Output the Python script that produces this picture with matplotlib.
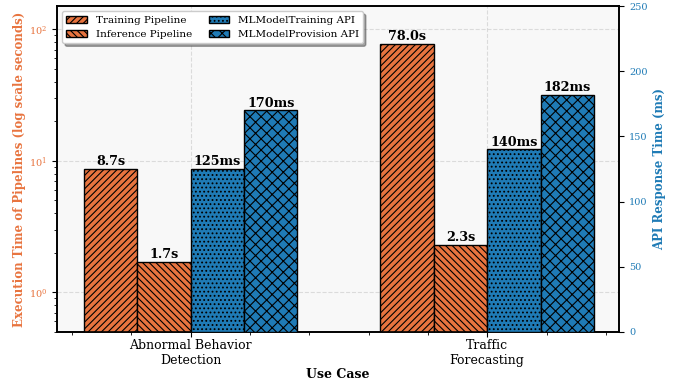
import matplotlib
matplotlib.use("Agg")
import matplotlib.pyplot as plt
from matplotlib.ticker import MultipleLocator
import numpy as np

use_cases = ["Abnormal Behavior\nDetection", "Traffic\nForecasting"]
training_pipeline = [8.7, 78.0]
inference_pipeline = [1.7, 2.3]
training_api = [125, 140]
provision_api = [170, 182]

orange = "#E8743F"
blue = "#1F7BB6"

plt.rcParams['font.family'] = 'DejaVu Serif'
plt.rcParams['hatch.linewidth'] = 0.8

fig, ax = plt.subplots(figsize=(6.88, 3.85), dpi=100)
fig.subplots_adjust(left=0.083, right=0.9, top=0.984, bottom=0.138)
ax.set_facecolor("#f8f8f8")

x = np.arange(len(use_cases))
w = 0.18

b1 = ax.bar(x - 1.5 * w, training_pipeline, w, color=orange, edgecolor="black",
            hatch="/////", linewidth=1.0, label="Training Pipeline", zorder=3)
b2 = ax.bar(x - 0.5 * w, inference_pipeline, w, color=orange, edgecolor="black",
            hatch="\\\\\\\\\\", linewidth=1.0, label="Inference Pipeline", zorder=3)
ax.set_yscale("log")
ax.set_ylim(0.5, 150)
ax.set_xlim(-0.45, 1.445)

ax2 = ax.twinx()
b3 = ax2.bar(x + 0.5 * w, training_api, w, color=blue, edgecolor="black",
             hatch="....", linewidth=1.0, label="MLModelTraining API", zorder=3)
b4 = ax2.bar(x + 1.5 * w, provision_api, w, color=blue, edgecolor="black",
             hatch="xxx", linewidth=1.0, label="MLModelProvision API", zorder=3)
ax2.set_ylim(0, 250)

# value labels
for bars, vals in [(b1, training_pipeline), (b2, inference_pipeline)]:
    for b, v in zip(bars, vals):
        ax.annotate(f"{v:.1f}s", (b.get_x() + b.get_width() / 2, v),
                    xytext=(0, 0.5), textcoords="offset points",
                    ha="center", va="bottom", fontsize=9.2, fontweight="bold")
for bars, vals in [(b3, training_api), (b4, provision_api)]:
    for b, v in zip(bars, vals):
        ax2.annotate(f"{v}ms", (b.get_x() + b.get_width() / 2, v),
                     xytext=(0, 0.5), textcoords="offset points",
                     ha="center", va="bottom", fontsize=9.2, fontweight="bold")

ax.set_xticks(x)
ax.set_xticklabels(use_cases, fontsize=9)
ax.xaxis.set_minor_locator(MultipleLocator(0.2))
ax.tick_params(axis="x", which="major", pad=1.5)
ax.set_xlabel("Use Case", fontsize=9, fontweight="bold", labelpad=1)
ax.set_ylabel("Execution Time of Pipelines (log scale seconds)", fontsize=8.5,
              fontweight="bold", color=orange, labelpad=2)
ax2.set_ylabel("API Response Time (ms)", fontsize=8.5, fontweight="bold", color=blue)

ax.tick_params(axis="y", which="both", labelcolor=orange, labelsize=7, color="black")
ax2.tick_params(axis="y", labelcolor=blue, labelsize=7, color="black")

for a in (ax, ax2):
    for s in a.spines.values():
        s.set_linewidth(1.2)

ax.grid(True, which="major", linestyle="--", color="#d0d0d0", alpha=0.7, zorder=0)
ax.set_axisbelow(True)

handles = [b1, b2, b3, b4]
ax.legend(handles, [h.get_label() for h in handles], loc="upper left", ncol=2,
          fontsize=7.5, frameon=True, fancybox=True, shadow=True,
          columnspacing=1.6, borderaxespad=0.5)

fig.savefig("out.png", dpi=100)
